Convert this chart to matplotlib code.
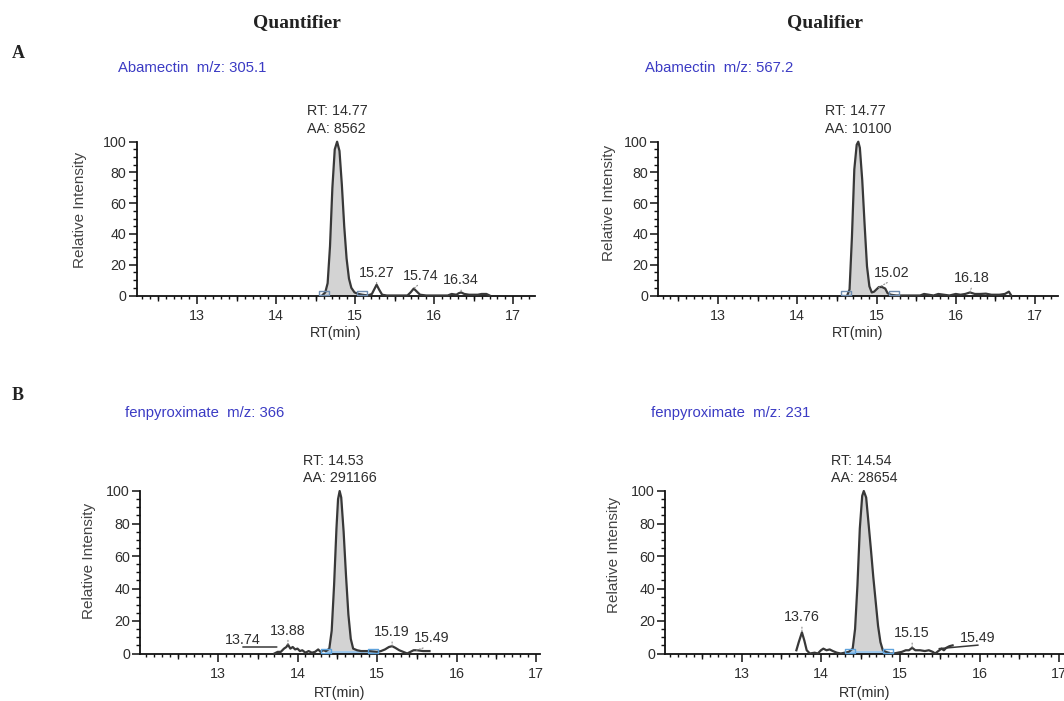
import numpy as np
import matplotlib
matplotlib.use("Agg")
import matplotlib.pyplot as plt
from matplotlib.ticker import MultipleLocator

plt.rcParams['font.family'] = ['Liberation Sans', 'DejaVu Sans']

# ---- data ----
# A, quantifier: Abamectin m/z 305.1
aba305_rt = [14.58, 14.62, 14.65, 14.68, 14.71, 14.74, 14.77, 14.80, 14.83, 14.86, 14.89, 14.92,
             14.95, 14.99, 15.04, 15.09, 15.16, 15.21, 15.24, 15.27, 15.30, 15.34, 15.40, 15.55,
             15.66, 15.70, 15.74, 15.78, 15.82, 15.90, 16.05, 16.17, 16.22, 16.28, 16.31, 16.34,
             16.38, 16.44, 16.55, 16.60, 16.66, 16.70]
aba305_int = [0, 2, 8, 32, 70, 95, 100, 94, 72, 45, 24, 11,
              5, 2, 1, 0.5, 0, 1, 4, 7, 4, 0.5, 0, 0,
              0, 2, 4.5, 2.5, 0.5, 0, 0, 0, 1, 0.5, 1.5, 2,
              1, 0.5, 0.5, 1, 1, 0]
aba305_bounds = [14.60, 15.09]
aba305_peaks = ['15.27', '15.74', '16.34']

# A, qualifier: Abamectin m/z 567.2
aba567_rt = [14.63, 14.66, 14.69, 14.72, 14.75, 14.77, 14.79, 14.82, 14.85, 14.88, 14.91, 14.94,
             14.97, 15.00, 15.03, 15.07, 15.11, 15.14, 15.18, 15.25, 15.55, 15.60, 15.66, 15.72,
             15.78, 15.85, 15.92, 16.00, 16.06, 16.12, 16.18, 16.24, 16.31, 16.38, 16.45, 16.55,
             16.62, 16.67, 16.70]
aba567_int = [0, 4, 38, 82, 98, 100, 96, 75, 46, 19, 6, 2,
              2.5, 4, 5.5, 5.5, 4.5, 1.5, 0.5, 0, 0, 1, 0.5, 0,
              1, 0.5, 0, 1, 0.5, 1, 2, 1, 1, 1.2, 0.5, 0.5,
              1, 2.5, 0]
aba567_bounds = [14.61, 15.22]
aba567_peaks = ['15.02', '16.18']

# B, quantifier: fenpyroximate m/z 366
fen366_rt = [13.71, 13.75, 13.79, 13.83, 13.86, 13.88, 13.91, 13.94, 13.97, 14.00, 14.03, 14.06,
             14.10, 14.14, 14.18, 14.22, 14.26, 14.29, 14.32, 14.36, 14.40, 14.43, 14.46, 14.49,
             14.51, 14.53, 14.55, 14.58, 14.61, 14.64, 14.67, 14.70, 14.75, 14.80, 14.90, 15.00,
             15.05, 15.10, 15.15, 15.19, 15.23, 15.28, 15.33, 15.38, 15.42, 15.46, 15.50, 15.58,
             15.66]
fen366_int = [0, 1, 1, 3, 4, 5.5, 3, 4, 2.5, 3, 1.5, 2,
              0.5, 1.5, 0.5, 1, 2.5, 1, 2, 1.5, 3, 14, 42, 77,
              95, 100, 96, 75, 48, 24, 9, 3, 2, 1.5, 1.5, 1,
              1.5, 2.5, 4, 4.5, 3.5, 2, 1, 0, 1, 2, 2, 1.5,
              1.5]
fen366_bounds = [14.36, 14.95]
fen366_peaks = ['13.74', '13.88', '15.19', '15.49']

# B, qualifier: fenpyroximate m/z 231
fen231_rt = [13.69, 13.72, 13.76, 13.79, 13.82, 13.86, 13.92, 13.96, 14.00, 14.03, 14.07, 14.11,
             14.15, 14.20, 14.25, 14.30, 14.35, 14.40, 14.43, 14.46, 14.49, 14.52, 14.54, 14.57,
             14.60, 14.63, 14.66, 14.69, 14.72, 14.75, 14.78, 14.82, 14.87, 14.92, 14.97, 15.02,
             15.07, 15.11, 15.15, 15.19, 15.25, 15.31, 15.36, 15.41, 15.44, 15.48, 15.52, 15.55,
             15.58, 15.62, 15.66]
fen231_int = [2, 7, 13, 8, 2, 0, 0.5, 0, 2, 3, 2, 2.5,
              1.5, 0.5, 0, 0.5, 1, 3, 15, 42, 77, 97, 100, 96,
              80, 64, 47, 32, 17, 7, 2, 1, 0, 0, 0.5, 1,
              2, 2, 3.5, 2, 2, 1.5, 2, 1, 0, 1.5, 3, 2,
              3.5, 4.5, 5]
fen231_bounds = [14.36, 14.85]
fen231_peaks = ['13.76', '15.15', '15.49']

titles = ['Abamectin  m/z: 305.1', 'Abamectin  m/z: 567.2',
          'fenpyroximate  m/z: 366', 'fenpyroximate  m/z: 231']
main_rt = ['14.77', '14.77', '14.53', '14.54']
main_aa = ['8562', '10100', '291166', '28654']

# ---- layout (pixels, top-left origin) ----
W, H = 1064, 701
fig = plt.figure(figsize=(W / 100, H / 100), dpi=100)
PT = 0.72  # points per pixel

TXT = '#2e2e2e'
LINE = '#383838'


def fig_xy(x, y):
    return x / W, 1 - y / H


def draw_panel(box, xlim, rt, inten, bounds, peaks, offsets, title, title_xy,
               ylab_xy, xlab_y, rt_lbl, aa_lbl, box_color, blue_base):
    left, right, top, bottom = box
    ax = fig.add_axes([left / W, 1 - bottom / H, (right - left) / W, (bottom - top) / H])
    rt = np.array(rt)
    inten = np.array(inten)

    sel = (rt >= bounds[0]) & (rt <= bounds[1])
    ax.fill_between(rt, inten, 0, where=sel, interpolate=True, color='#d3d3d3', lw=0, zorder=1)
    if blue_base:
        ax.plot(bounds, [1.2, 1.2], color='#9cc8ee', lw=2.0, zorder=2)
    ax.plot(rt, inten, color=LINE, lw=1.6, zorder=3, clip_on=False)
    ax.plot(bounds, [1.5, 1.5], ls='none', marker=[(-1, -0.45), (1, -0.45), (1, 0.45), (-1, 0.45), (-1, -0.45)],
            ms=10 * PT, mfc='none', mec=box_color, mew=1.0, zorder=4, clip_on=False)

    # main peak label
    ax.annotate('RT: %s\nAA: %s' % (rt_lbl, aa_lbl), xy=(float(rt_lbl), 100), xytext=(0, 6 * PT),
                textcoords='offset points', ha='center', va='bottom', multialignment='left',
                fontsize=10.3, color=TXT, linespacing=1.3, annotation_clip=False)

    # small peak labels
    for lbl in peaks:
        x = float(lbl)
        dx, dy, lead = offsets[lbl]
        if lead is None:
            y = np.interp(x, rt, inten)
            arrow = dict(arrowstyle='-', color='#8a8a8a', lw=0.8, ls=':', shrinkA=0, shrinkB=0, relpos=(0.5, 0))
        else:
            y = lead
            arrow = dict(arrowstyle='-', color=LINE, lw=1.1, shrinkA=0, shrinkB=0, relpos=(0.5, 0),
                         patchA=None)
        ax.annotate(lbl, xy=(x, y), xytext=(dx * PT, dy * PT), textcoords='offset points',
                    ha='center', va='bottom', fontsize=10.3, color=TXT, arrowprops=arrow,
                    annotation_clip=False)

    ax.set_xlim(*xlim)
    ax.set_ylim(0, 100)
    for s in ['top', 'right']:
        ax.spines[s].set_visible(False)
    for s in ['left', 'bottom']:
        ax.spines[s].set_linewidth(1.3)
        ax.spines[s].set_color('#111111')
    ax.xaxis.set_major_locator(MultipleLocator(1))
    ax.xaxis.set_minor_locator(MultipleLocator(0.1))
    ax.yaxis.set_major_locator(MultipleLocator(20))
    ax.yaxis.set_minor_locator(MultipleLocator(5))
    ax.tick_params(axis='x', which='major', length=7.7 * PT, width=1.1, pad=4, labelsize=10.3,
                   labelcolor=TXT, color='#111111')
    ax.tick_params(axis='x', which='minor', length=2.8 * PT, width=1.0, color='#111111')
    ax.tick_params(axis='y', which='major', length=8 * PT, width=1.1, pad=1.5, labelsize=10.3,
                   labelcolor=TXT, color='#111111')
    ax.tick_params(axis='y', which='minor', length=4 * PT, width=1.0, color='#111111')

    # half-minute ticks, medium length
    sec = ax.secondary_xaxis('bottom')
    sec.set_xticks(np.arange(12.5, 17.5, 1.0))
    sec.tick_params(length=5.3 * PT, width=1.0, labelbottom=False, color='#111111')
    sec.spines['bottom'].set_visible(False)

    ax.set_xlabel('RT(min)', fontsize=10.3, color=TXT)
    ax.xaxis.set_label_coords(*fig_xy((left + right) / 2, xlab_y), transform=fig.transFigure)
    ax.xaxis.label.set_va('center')
    ax.set_ylabel('Relative Intensity', fontsize=11, color='#444444')
    ax.yaxis.set_label_coords(*fig_xy(*ylab_xy), transform=fig.transFigure)
    ax.yaxis.label.set_va('center')

    fig.text(*fig_xy(*title_xy), title, fontsize=10.7, color='#3b3bc4', ha='left', va='center')
    return ax


# label offsets: (px right, px up, leader-line level or None)
off_a1 = {'15.27': (0, 5, None), '15.74': (7, 6, None), '16.34': (0, 5, None)}
off_a2 = {'15.02': (14, 8, None), '16.18': (2, 7, None)}
off_b1 = {'13.74': (-34, 0, 4), '13.88': (0, 7, None), '15.19': (0, 7, None), '15.49': (16, 5, None)}
off_b2 = {'13.76': (0, 8, None), '15.15': (0, 7.5, None), '15.49': (39, 3.5, 3)}

draw_panel((136.7, 535, 141.7, 295.5), (12.233, 17.275), aba305_rt, aba305_int, aba305_bounds,
           aba305_peaks, off_a1, titles[0], (118, 68), (80, 210), 333, main_rt[0], main_aa[0],
           '#6f8db0', False)
draw_panel((658, 1058, 141.7, 295.5), (12.243, 17.290), aba567_rt, aba567_int, aba567_bounds,
           aba567_peaks, off_a2, titles[1], (645, 68), (609, 203), 333, main_rt[1], main_aa[1],
           '#6f8db0', False)
draw_panel((140, 540, 491, 653.5), (12.019, 17.05), fen366_rt, fen366_int, fen366_bounds,
           fen366_peaks, off_b1, titles[2], (125, 413), (89, 561), 693, main_rt[2], main_aa[2],
           '#5fa3dc', True)
draw_panel((665, 1064, 491, 653.5), (12.033, 17.065), fen231_rt, fen231_int, fen231_bounds,
           fen231_peaks, off_b2, titles[3], (651, 413), (614, 555), 693, main_rt[3], main_aa[3],
           '#5fa3dc', True)

serif = ['Liberation Serif', 'DejaVu Serif']
fig.text(*fig_xy(297, 23), 'Quantifier', family=serif, fontsize=14, fontweight='bold', color='#222222',
         ha='center', va='center')
fig.text(*fig_xy(825, 23), 'Qualifier', family=serif, fontsize=14, fontweight='bold', color='#222222',
         ha='center', va='center')
fig.text(*fig_xy(12, 54), 'A', family=serif, fontsize=13, fontweight='bold', color='#222222',
         ha='left', va='center')
fig.text(*fig_xy(12, 395), 'B', family=serif, fontsize=13, fontweight='bold', color='#222222',
         ha='left', va='center')

fig.savefig('out.png', dpi=100, facecolor='white')
